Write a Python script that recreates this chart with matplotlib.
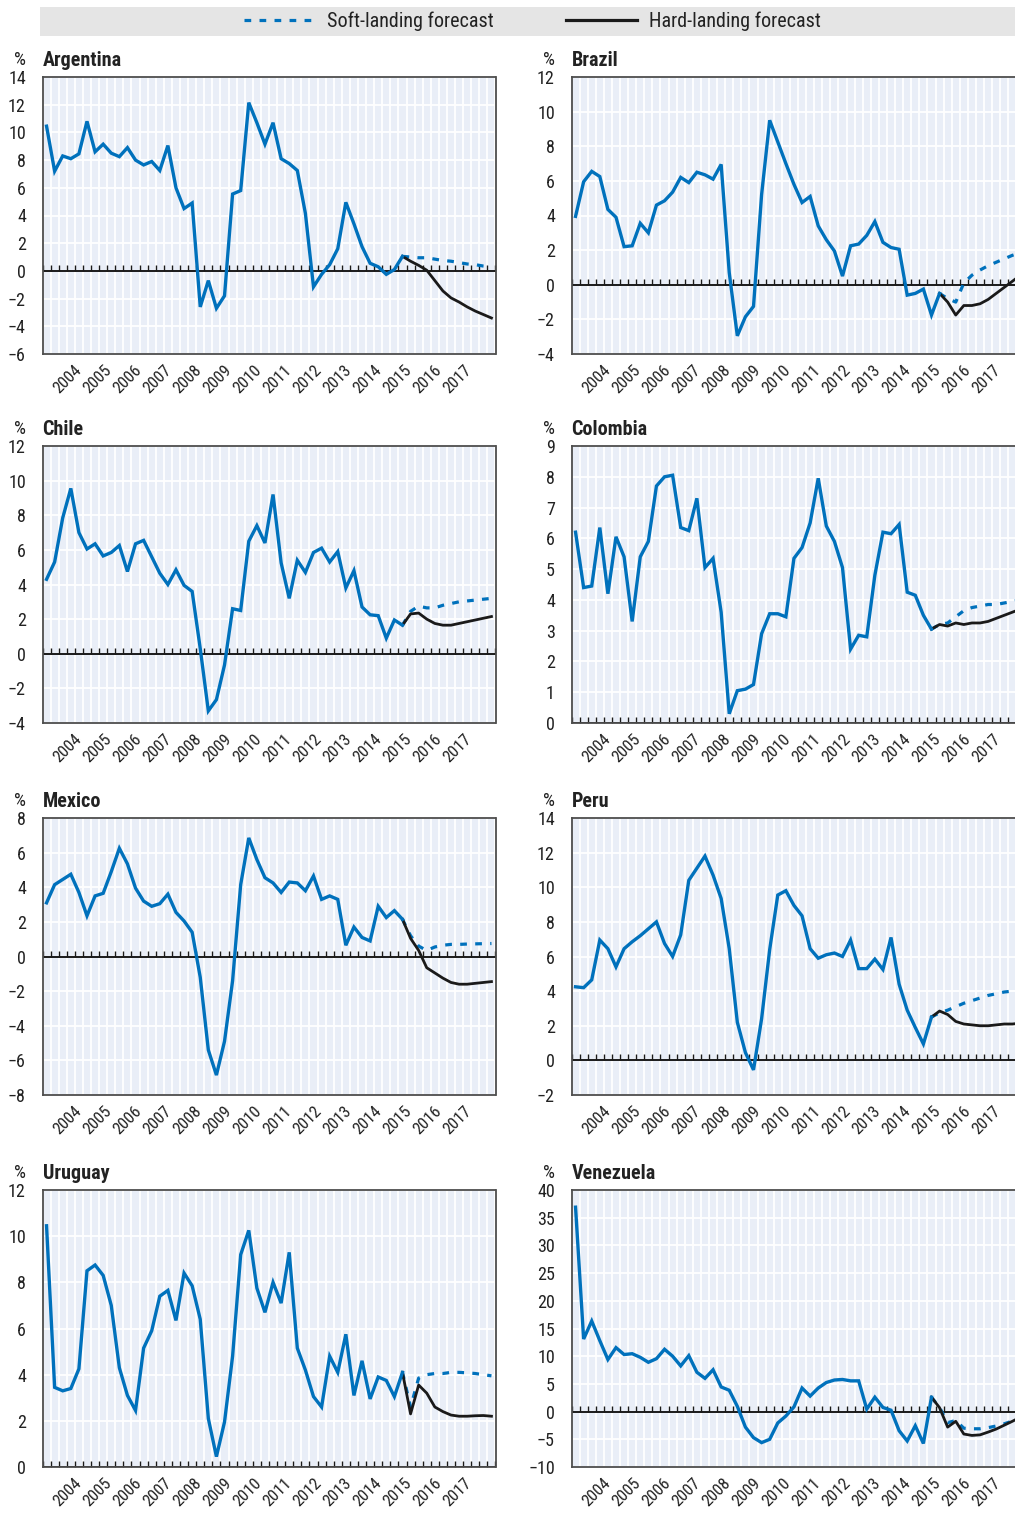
import matplotlib
matplotlib.use("Agg")
import matplotlib.pyplot as plt
import numpy as np
from matplotlib import font_manager
from matplotlib.lines import Line2D

W, H = 1015, 1514

# quarterly GDP growth, 2004Q1 .. 2017Q4 (56 quarters)
N_QUARTERS = 56
YEARS = [str(y) for y in range(2004, 2018)]

argentina_hist = [10.45, 7.2, 8.3, 8.1, 8.45, 10.8, 8.6, 9.15, 8.5, 8.25,
                  8.9, 8.0, 7.65, 7.9, 7.25, 9.05, 6.0, 4.5, 4.9, -2.6,
                  -0.7, -2.7, -1.8, 5.55, 5.8, 12.15, 10.7, 9.15, 10.7, 8.1,
                  7.75, 7.25, 4.15, -1.15, -0.25, 0.45, 1.6, 4.95, 3.4, 1.75,
                  0.55, 0.3, -0.25, 0.1, 1.05]
argentina_soft = [1.0, 0.95, 0.95, 0.85, 0.75, 0.7, 0.6, 0.5, 0.45, 0.35, 0.3]
argentina_hard = [0.7, 0.4, 0.05, -0.7, -1.45, -1.95, -2.25, -2.6, -2.9, -3.15, -3.4]

brazil_hist = [3.95, 5.95, 6.55, 6.25, 4.35, 3.9, 2.2, 2.25, 3.55, 3.0,
               4.6, 4.85, 5.35, 6.2, 5.9, 6.5, 6.35, 6.1, 6.95, 0.7,
               -2.95, -1.85, -1.25, 5.2, 9.5, 8.25, 7.0, 5.8, 4.75, 5.1,
               3.4, 2.6, 1.95, 0.5, 2.25, 2.35, 2.85, 3.65, 2.45, 2.15,
               2.05, -0.6, -0.5, -0.25, -1.75, -0.5]
brazil_soft = [-0.8, -1.0, 0.1, 0.55, 0.85, 1.1, 1.3, 1.5, 1.7, 1.85]
brazil_hard = [-1.0, -1.75, -1.2, -1.2, -1.1, -0.85, -0.5, -0.15, 0.2, 0.55]

chile_hist = [4.3, 5.3, 7.85, 9.55, 7.0, 6.05, 6.35, 5.65, 5.85, 6.25,
              4.75, 6.35, 6.55, 5.6, 4.65, 4.0, 4.85, 3.95, 3.6, 0.3,
              -3.3, -2.65, -0.65, 2.6, 2.5, 6.5, 7.4, 6.4, 9.2, 5.25,
              3.2, 5.4, 4.7, 5.85, 6.1, 5.3, 5.9, 3.8, 4.8, 2.7,
              2.25, 2.2, 0.9, 1.95, 1.65]
chile_soft = [2.45, 2.75, 2.65, 2.65, 2.8, 2.9, 3.0, 3.05, 3.1, 3.15, 3.2]
chile_hard = [2.3, 2.35, 2.0, 1.75, 1.65, 1.65, 1.75, 1.85, 1.95, 2.05, 2.15]

colombia_hist = [6.2, 4.4, 4.45, 6.35, 4.2, 6.05, 5.4, 3.3, 5.4, 5.9,
                 7.7, 8.0, 8.05, 6.35, 6.25, 7.3, 5.05, 5.35, 3.6, 0.3,
                 1.05, 1.1, 1.25, 2.9, 3.55, 3.55, 3.45, 5.35, 5.7, 6.5,
                 7.95, 6.4, 5.9, 5.05, 2.4, 2.85, 2.8, 4.8, 6.2, 6.15,
                 6.45, 4.25, 4.15, 3.5, 3.05]
colombia_soft = [3.2, 3.25, 3.45, 3.65, 3.75, 3.8, 3.85, 3.85, 3.9, 3.95, 4.0]
colombia_hard = [3.2, 3.15, 3.25, 3.2, 3.25, 3.25, 3.3, 3.4, 3.5, 3.6, 3.7]

mexico_hist = [3.1, 4.15, 4.45, 4.75, 3.7, 2.35, 3.5, 3.65, 4.9, 6.25,
               5.35, 3.95, 3.2, 2.9, 3.05, 3.6, 2.55, 2.05, 1.4, -1.2,
               -5.4, -6.85, -4.9, -1.4, 4.15, 6.85, 5.6, 4.55, 4.25, 3.7,
               4.3, 4.25, 3.8, 4.65, 3.3, 3.5, 3.3, 0.65, 1.7, 1.1,
               0.9, 2.9, 2.25, 2.65, 2.15]
mexico_soft = [1.2, 0.6, 0.35, 0.55, 0.65, 0.7, 0.7, 0.72, 0.73, 0.74, 0.75]
mexico_hard = [1.05, 0.35, -0.65, -0.95, -1.25, -1.5, -1.6, -1.6, -1.55, -1.5, -1.45]

peru_hist = [4.25, 4.2, 4.65, 6.95, 6.45, 5.4, 6.45, 6.85, 7.2, 7.6,
             8.0, 6.75, 6.0, 7.25, 10.4, 11.1, 11.8, 10.7, 9.35, 6.45,
             2.2, 0.45, -0.55, 2.4, 6.4, 9.55, 9.8, 8.95, 8.35, 6.45,
             5.9, 6.1, 6.2, 6.0, 6.95, 5.3, 5.3, 5.85, 5.25, 7.1,
             4.4, 2.9, 1.9, 0.95, 2.5]
peru_soft = [2.75, 2.9, 3.1, 3.3, 3.45, 3.6, 3.75, 3.85, 3.95, 4.0, 4.05]
peru_hard = [2.85, 2.65, 2.25, 2.1, 2.05, 2.0, 2.0, 2.05, 2.1, 2.1, 2.15]

uruguay_hist = [10.45, 3.45, 3.3, 3.4, 4.25, 8.5, 8.75, 8.3, 7.0, 4.3,
                3.1, 2.45, 5.15, 5.9, 7.4, 7.65, 6.35, 8.4, 7.85, 6.4,
                2.1, 0.45, 1.95, 4.8, 9.2, 10.25, 7.75, 6.7, 8.0, 7.1,
                9.3, 5.15, 4.2, 3.05, 2.6, 4.8, 4.1, 5.75, 3.1, 4.6,
                2.95, 3.9, 3.75, 3.05, 4.1]
uruguay_soft = [2.6, 3.85, 4.0, 4.05, 4.05, 4.1, 4.1, 4.08, 4.05, 4.0, 3.95]
uruguay_hard = [2.3, 3.55, 3.2, 2.6, 2.4, 2.25, 2.2, 2.2, 2.22, 2.23, 2.2]

venezuela_hist = [36.9, 13.1, 16.35, 12.8, 9.4, 11.55, 10.3, 10.45, 9.8, 8.9,
                  9.55, 11.25, 10.0, 8.25, 10.1, 7.1, 6.0, 7.55, 4.45, 3.85,
                  0.95, -2.8, -4.7, -5.6, -5.0, -2.05, -0.8, 0.85, 4.25, 2.8,
                  4.25, 5.25, 5.7, 5.8, 5.55, 5.55, 0.45, 2.6, 0.75, 0.25,
                  -3.45, -5.3, -2.55, -5.75, 2.6]
venezuela_soft = [0.75, -2.0, -1.6, -3.0, -3.1, -3.1, -2.9, -2.6, -2.2, -1.7, -1.2]
venezuela_hard = [0.7, -2.8, -1.75, -4.05, -4.3, -4.2, -3.7, -3.15, -2.45, -1.75, -1.0]

PANELS = [
    ("Argentina", argentina_hist, argentina_soft, argentina_hard, np.arange(-6, 15, 2)),
    ("Brazil", brazil_hist, brazil_soft, brazil_hard, np.arange(-4, 13, 2)),
    ("Chile", chile_hist, chile_soft, chile_hard, np.arange(-4, 13, 2)),
    ("Colombia", colombia_hist, colombia_soft, colombia_hard, np.arange(0, 10, 1)),
    ("Mexico", mexico_hist, mexico_soft, mexico_hard, np.arange(-8, 9, 2)),
    ("Peru", peru_hist, peru_soft, peru_hard, np.arange(-2, 15, 2)),
    ("Uruguay", uruguay_hist, uruguay_soft, uruguay_hard, np.arange(0, 13, 2)),
    ("Venezuela", venezuela_hist, venezuela_soft, venezuela_hard, np.arange(-10, 41, 5)),
]

BLUE = "#0071BC"
BLACK = "#1a1a1a"
PANEL_BG = "#E9EEF7"
LEGEND_BG = "#E5E5E5"
TEXT = "#222222"
SOFT_DASH = (0, (2.1, 2.6))

available = {f.name for f in font_manager.fontManager.ttflist}
FONT = "DejaVu Sans"
for fam in ["Liberation Sans Narrow", "Roboto Condensed", "Arial Narrow"]:
    if fam in available:
        FONT = fam
        break
plt.rcParams["font.family"] = FONT
plt.rcParams["text.color"] = TEXT
plt.rcParams["xtick.color"] = TEXT
plt.rcParams["ytick.color"] = TEXT

# year labels are spread a little tighter than the quarters in the original
YEAR_POS = np.linspace(3.4, 51.6, len(YEARS))

COL_LEFT = [42.5, 571.5]
ROW_TOP = [77, 446, 818, 1190]
PANEL_W, PANEL_H = 453, 277


def px_axes(fig, left, top, width, height):
    return fig.add_axes([left / W, 1 - (top + height) / H, width / W, height / H])


def draw_panel(ax, name, hist, soft, hard, yticks):
    n_hist = len(hist)
    x_hist = np.arange(n_hist)
    x_fc = np.arange(n_hist - 1, n_hist + len(soft))
    edges = np.arange(N_QUARTERS + 1) - 0.5

    ax.set_facecolor(PANEL_BG)
    ax.set_xlim(-0.5, N_QUARTERS - 0.5)
    ax.set_ylim(yticks[0], yticks[-1])
    ax.set_yticks(yticks)
    ax.set_xticks(edges, minor=True)
    ax.set_xticks(YEAR_POS, YEARS)
    ax.grid(True, which="minor", axis="x", color="white", lw=1.3)
    ax.grid(True, which="major", axis="y", color="white", lw=1.3)
    ax.tick_params(which="both", length=0)
    ax.tick_params(axis="y", labelsize=13, pad=12)
    ax.tick_params(axis="x", labelsize=12, pad=6)
    for lab in ax.get_xticklabels():
        lab.set_rotation(45)
        lab.set_ha("right")
        lab.set_va("top")
        lab.set_rotation_mode("anchor")
    for sp in ax.spines.values():
        sp.set_color("#4d4d4d")
        sp.set_linewidth(1.3)

    # zero line with small quarter ticks
    ax.axhline(0, color=BLACK, lw=1.4, zorder=2.5)
    ax.plot(edges, np.zeros(len(edges)), ls="none", marker=2, ms=4, mew=1.0,
            color=BLACK, zorder=2.5)

    ax.plot(x_fc, [hist[-1]] + soft, color=BLUE, lw=2.3, ls=SOFT_DASH, zorder=3)
    ax.plot(x_fc, [hist[-1]] + hard, color=BLACK, lw=2.0, zorder=3.5)
    ax.plot(x_hist, hist, color=BLUE, lw=2.4, zorder=4, solid_joinstyle="miter")

    ax.annotate(name, xy=(0, 1), xycoords="axes fraction", xytext=(0, 12),
                textcoords="offset points", ha="left", va="center",
                fontsize=14.5, fontweight="bold")
    ax.annotate("%", xy=(0, 1), xycoords="axes fraction", xytext=(-12, 12),
                textcoords="offset points", ha="right", va="center", fontsize=13.5)


def main():
    fig = plt.figure(figsize=(W / 100, H / 100), dpi=100)

    for i, (name, hist, soft, hard, yticks) in enumerate(PANELS):
        ax = px_axes(fig, COL_LEFT[i % 2], ROW_TOP[i // 2], PANEL_W, PANEL_H)
        draw_panel(ax, name, hist, soft, hard, yticks)

    leg_ax = px_axes(fig, 40, 7, 975, 29)
    leg_ax.set_facecolor(LEGEND_BG)
    leg_ax.set_xticks([])
    leg_ax.set_yticks([])
    for sp in leg_ax.spines.values():
        sp.set_visible(False)
    handles = [
        Line2D([], [], color=BLUE, lw=2.3, ls=SOFT_DASH),
        Line2D([], [], color=BLACK, lw=2.3),
    ]
    leg_ax.legend(handles, ["Soft-landing forecast", "Hard-landing forecast"],
                  loc="center", bbox_to_anchor=(0.505, 0.5), ncol=2, frameon=False,
                  fontsize=14.5, handlelength=3.5, handletextpad=0.6,
                  columnspacing=3.6, borderpad=0)

    fig.savefig("out.png", dpi=100)
    plt.close(fig)


if __name__ == "__main__":
    main()
